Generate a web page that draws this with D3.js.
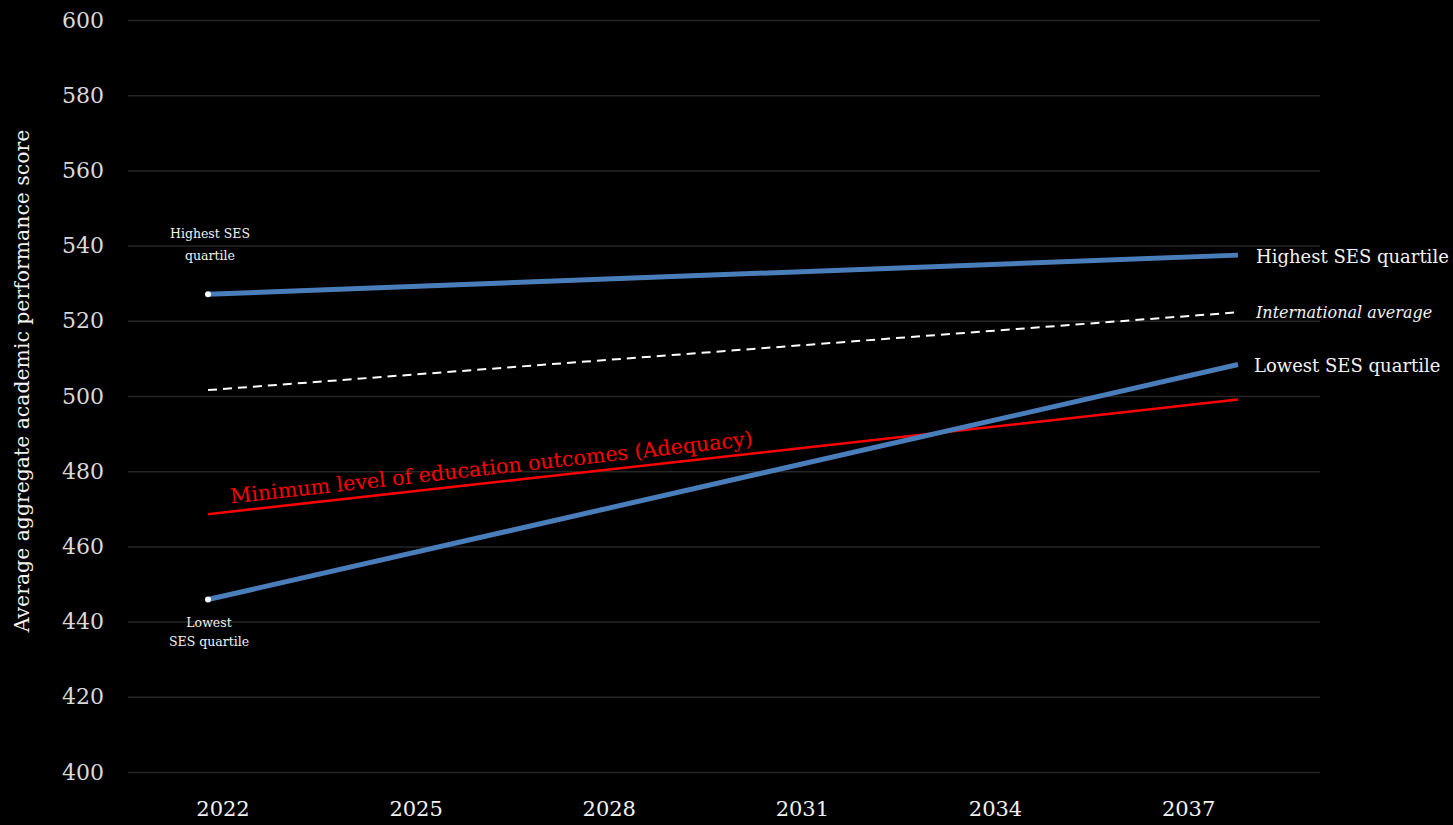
<!DOCTYPE html>
<html>
<head>
<meta charset="utf-8">
<script src="https://cdn.jsdelivr.net/npm/d3@7"></script>
<style>
  html, body { margin: 0; padding: 0; background: #000; }
  svg { display: block; }
  text { font-family: "DejaVu Serif", "Liberation Serif", serif; fill: #f2f2f2; }
</style>
</head>
<body>
<svg id="chart" width="1453" height="825"></svg>
<script>
// Projection window (first and last year of each series)
const years = [2022, 2038];
const tickYears = [2022, 2025, 2028, 2031, 2034, 2037];
const yTicks = [400, 420, 440, 460, 480, 500, 520, 540, 560, 580, 600];

// Average aggregate score at the start and end of the window
const highestSES = [527.2, 537.6];
const internationalAvg = [501.7, 522.4];
const lowestSES = [446.0, 508.5];
const adequacy = [468.7, 499.2];

const svg = d3.select("#chart");
const W = 1453, H = 825;
svg.append("rect").attr("width", W).attr("height", H).attr("fill", "#000");

const gridLeft = 128, gridRight = 1320;
const x = d3.scaleLinear().domain([2022, 2038]).range([208, 1238]);
const y = d3.scaleLinear().domain([400, 600]).range([772.5, 20.5]);

// Horizontal gridlines and value labels
const yAxis = svg.append("g");
yAxis.selectAll("line").data(yTicks).join("line")
  .attr("x1", gridLeft).attr("x2", gridRight)
  .attr("y1", d => y(d)).attr("y2", d => y(d))
  .attr("stroke", "#262626").attr("stroke-width", 1.5);
yAxis.selectAll("text").data(yTicks).join("text")
  .attr("x", 104).attr("y", d => y(d) + 7)
  .attr("text-anchor", "end")
  .attr("font-size", 22)
  .attr("fill", "#d9d9d9").style("fill", "#d9d9d9")
  .text(d => d);

// Year labels along the bottom
svg.append("g").selectAll("text").data(tickYears).join("text")
  .attr("x", d => x(d) + 15).attr("y", 816)
  .attr("text-anchor", "middle")
  .attr("font-size", 21)
  .text(d => d);

// Axis title
svg.append("text")
  .attr("transform", "translate(29,381) rotate(-90)")
  .attr("text-anchor", "middle")
  .attr("font-size", 20.4)
  .text("Average aggregate academic performance score");

const pts = vals => years.map((yr, i) => [x(yr), y(vals[i])]);
const line = d3.line();

// Adequacy threshold
svg.append("path").attr("d", line(pts(adequacy)))
  .attr("fill", "none").attr("stroke", "#ff0000").attr("stroke-width", 2.5);

// International average (dashed)
svg.append("path").attr("d", line(pts(internationalAvg)))
  .attr("fill", "none").attr("stroke", "#ffffff").attr("stroke-width", 2)
  .attr("stroke-dasharray", "9,6");

// SES quartile series
[highestSES, lowestSES].forEach(vals => {
  svg.append("path").attr("d", line(pts(vals)))
    .attr("fill", "none").attr("stroke", "#4a7ebb").attr("stroke-width", 5)
    .attr("stroke-linecap", "butt");
  svg.append("circle")
    .attr("cx", x(years[0])).attr("cy", y(vals[0])).attr("r", 3)
    .attr("fill", "#ffffff");
});

// Right-hand series labels
const endX = x(years[1]);
svg.append("text").attr("x", endX + 18).attr("y", y(highestSES[1]) + 8)
  .attr("font-size", 18).text("Highest SES quartile");
svg.append("text").attr("x", endX + 18).attr("y", y(internationalAvg[1]) + 6)
  .attr("font-size", 16).attr("font-style", "italic").text("International average");
svg.append("text").attr("x", endX + 16).attr("y", y(lowestSES[1]) + 7)
  .attr("font-size", 18).text("Lowest SES quartile");

// Start-point labels
const sx = x(years[0]);
const hiLbl = svg.append("text").attr("text-anchor", "middle").attr("font-size", 12.5);
hiLbl.append("tspan").attr("x", sx + 2).attr("y", y(highestSES[0]) - 56).text("Highest SES");
hiLbl.append("tspan").attr("x", sx + 2).attr("y", y(highestSES[0]) - 34).text("quartile");
const loLbl = svg.append("text").attr("text-anchor", "middle").attr("font-size", 12.5);
loLbl.append("tspan").attr("x", sx + 1).attr("y", y(lowestSES[0]) + 27).text("Lowest");
loLbl.append("tspan").attr("x", sx + 1).attr("y", y(lowestSES[0]) + 46).text("SES quartile");

// Label running along the adequacy line
const [a0, a1] = pts(adequacy);
const ang = Math.atan2(a1[1] - a0[1], a1[0] - a0[0]) * 180 / Math.PI;
svg.append("text")
  .attr("transform", `translate(${a0[0]},${a0[1]}) rotate(${ang}) translate(24,-8)`)
  .attr("font-size", 20.7)
  .attr("fill", "#ff0000").style("fill", "#ff0000")
  .text("Minimum level of education outcomes (Adequacy)");
</script>
</body>
</html>
